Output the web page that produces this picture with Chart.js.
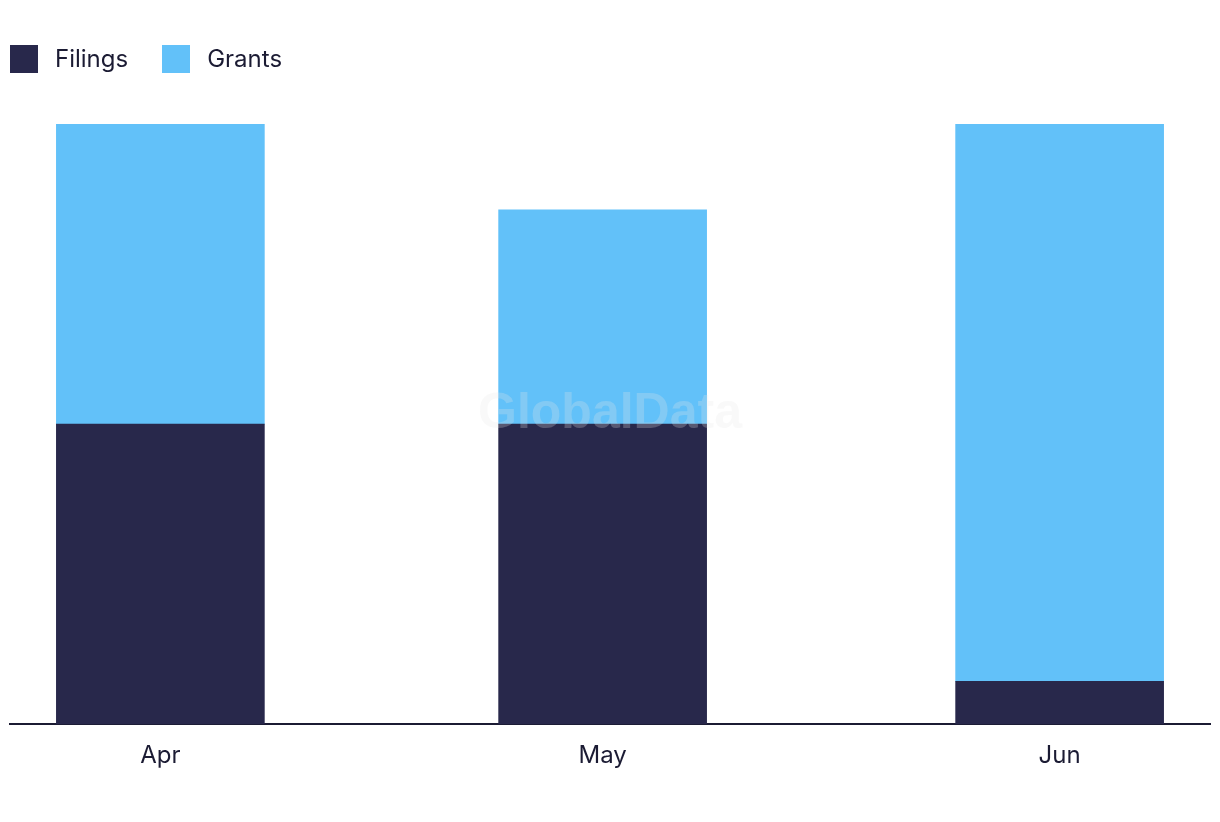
<!DOCTYPE html>
<html>
<head>
<meta charset="utf-8">
<script src="https://cdn.jsdelivr.net/npm/chart.js@4.4.1/dist/chart.umd.min.js"></script>
<style>
  html, body { margin: 0; padding: 0; background: #fff; }
  #wrap { position: relative; width: 1220px; height: 822px; }
  #legend { position: absolute; left: 10px; top: 44px; display: flex; font-family: Inter, sans-serif; font-size: 24px; color: #1b1b33; }
  .item { display: flex; align-items: center; margin-right: 34px; }
  .box { width: 28px; height: 28px; margin-right: 17px; }
</style>
</head>
<body>
<div id="wrap">
  <div id="legend"></div>
  <canvas id="chart" width="1220" height="822"></canvas>
</div>
<script>
const months = ['Apr', 'May', 'Jun'];
const dayOffsets = [0, 30, 61]; // días desde el 1 de abril
const filings = [7, 7, 1];
const grants = [7, 5, 13];

const colores = { Filings: '#28284b', Grants: '#62c1f9' };

// leyenda en HTML
const leyenda = document.getElementById('legend');
Object.keys(colores).forEach(nombre => {
  const item = document.createElement('div');
  item.className = 'item';
  item.innerHTML = `<div class="box" style="background:${colores[nombre]}"></div><span>${nombre}</span>`;
  leyenda.appendChild(item);
});

const marcaAgua = {
  id: 'marcaAgua',
  afterDatasetsDraw(chart) {
    const ctx = chart.ctx;
    ctx.save();
    ctx.font = 'bold 50px "Liberation Sans", Arial, sans-serif';
    ctx.fillStyle = 'rgba(230, 230, 230, 0.25)';
    ctx.textAlign = 'center';
    ctx.textBaseline = 'alphabetic';
    ctx.fillText('GlobalData', 610, 428);
    ctx.restore();
  }
};

new Chart(document.getElementById('chart'), {
  type: 'bar',
  data: {
    datasets: [
      {
        label: 'Filings',
        data: dayOffsets.map((d, i) => ({ x: d, y: filings[i] })),
        backgroundColor: colores.Filings,
        barThickness: 208
      },
      {
        label: 'Grants',
        data: dayOffsets.map((d, i) => ({ x: d, y: grants[i] })),
        backgroundColor: colores.Grants,
        barThickness: 208
      }
    ]
  },
  options: {
    responsive: false,
    animation: false,
    layout: { padding: { top: 124, left: 10, right: 10, bottom: 35 } },
    plugins: {
      legend: { display: false },
      tooltip: { enabled: false }
    },
    scales: {
      x: {
        type: 'linear',
        stacked: true,
        offset: false,
        min: -10.2,
        max: 71.2,
        grid: { display: false, drawTicks: false },
        border: { display: true, color: '#1b1b33', width: 2 },
        afterBuildTicks: axis => { axis.ticks = dayOffsets.map(v => ({ value: v })); },
        ticks: {
          padding: 17,
          color: '#1b1b33',
          font: { family: 'Inter', size: 24 },
          callback: v => months[dayOffsets.indexOf(v)]
        }
      },
      y: {
        stacked: true,
        display: false,
        min: 0,
        max: 14
      }
    }
  },
  plugins: [marcaAgua]
});
</script>
</body>
</html>
